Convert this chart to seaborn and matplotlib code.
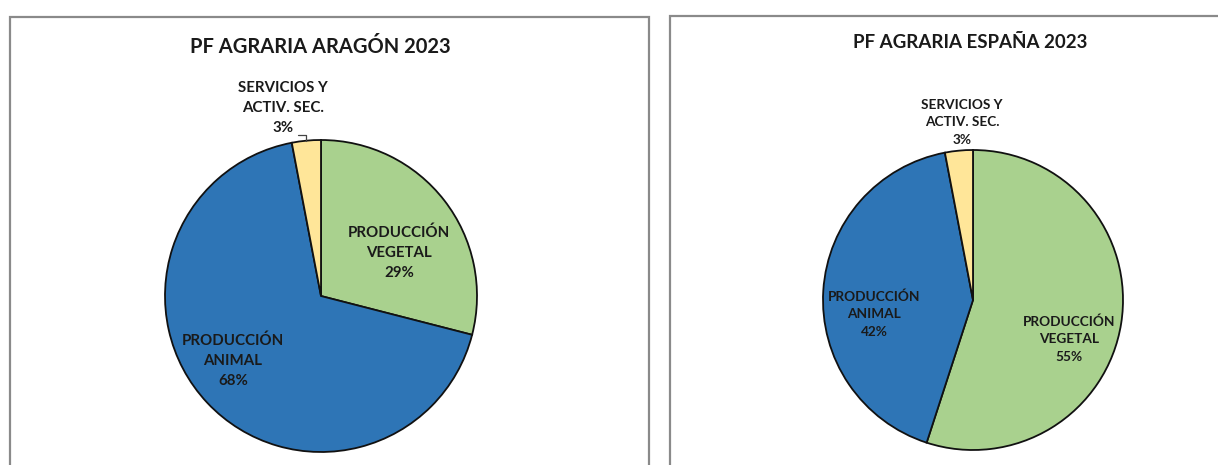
import numpy as np
import matplotlib
matplotlib.use("Agg")
import matplotlib.pyplot as plt
from matplotlib.patches import Rectangle
import seaborn as sns

sns.set_theme(style="white")
plt.rcParams['font.family'] = ['Lato', 'DejaVu Sans']

# Data
categories = ['PRODUCCIÓN\nVEGETAL', 'PRODUCCIÓN\nANIMAL', 'SERVICIOS Y\nACTIV. SEC.']
aragon_pct = [29, 68, 3]
espana_pct = [55, 42, 3]
titles = ['PF AGRARIA ARAGÓN 2023', 'PF AGRARIA ESPAÑA 2023']
colors = ['#A9D18E', '#2E75B6', '#FFE699']

W, H = 1218, 465
fig = plt.figure(figsize=(W / 100, H / 100), dpi=100)
fig.patch.set_facecolor('white')


def px_axes(cx, cy, r):
    # axes box in pixel units around the pie centre
    return fig.add_axes([(cx - r) / W, (H - cy - r) / H, 2 * r / W, 2 * r / H])


def to_data(cx, cy, r, px, py):
    return (px - cx) / r, (cy - py) / r


# panel frames
fig.add_artist(Rectangle((10 / W, -0.1), 639 / W, (H - 17) / H + 0.1, transform=fig.transFigure,
                         fill=False, edgecolor='#8a8a8a', lw=1.6))
fig.add_artist(Rectangle((670 / W, -0.1), 600 / W, (H - 16) / H + 0.1, transform=fig.transFigure,
                         fill=False, edgecolor='#8a8a8a', lw=1.6))

panels = [
    dict(vals=aragon_pct, title=titles[0], cx=321, cy=296, r=156, tx=320, ty=47,
         label_px=[(399, 253), (233, 361), (283, 108)], fs=10.8, tfs=14.5, leader=True),
    dict(vals=espana_pct, title=titles[1], cx=973, cy=300, r=150, tx=970, ty=42,
         label_px=[(1069, 339), (874, 314), (962, 122)], fs=9.8, tfs=13.5, leader=False),
]

for p in panels:
    ax = px_axes(p['cx'], p['cy'], p['r'])
    wedges, _ = ax.pie(p['vals'], colors=colors, startangle=90, counterclock=False,
                       radius=1, wedgeprops=dict(edgecolor='#111111', linewidth=1.3))
    ax.set_xlim(-1, 1)
    ax.set_ylim(-1, 1)
    ax.set_axis_off()
    for cat, v, (lx, ly) in zip(categories, p['vals'], p['label_px']):
        x, y = to_data(p['cx'], p['cy'], p['r'], lx, ly)
        ax.text(x, y, f"{cat}\n{v}%", ha='center', va='center', fontsize=p['fs'],
                fontweight='bold', color='#1a1a1a', linespacing=1.55)
    if p['leader']:
        w = wedges[2]
        mid = np.deg2rad((w.theta1 + w.theta2) / 2)
        ex, ey = np.cos(mid), np.sin(mid)
        sx, _ = to_data(p['cx'], p['cy'], p['r'], 298, 0)
        ax.plot([sx, ex, ex], [1.035, 1.035, ey], color='#444444', lw=0.9, clip_on=False)
    tx = p['tx'] / W
    fig.text(tx, 1 - p['ty'] / H, p['title'], ha='center', va='center', fontsize=p['tfs'],
             fontweight='bold', color='#1a1a1a')

fig.savefig('out.png', dpi=100, facecolor='white')
